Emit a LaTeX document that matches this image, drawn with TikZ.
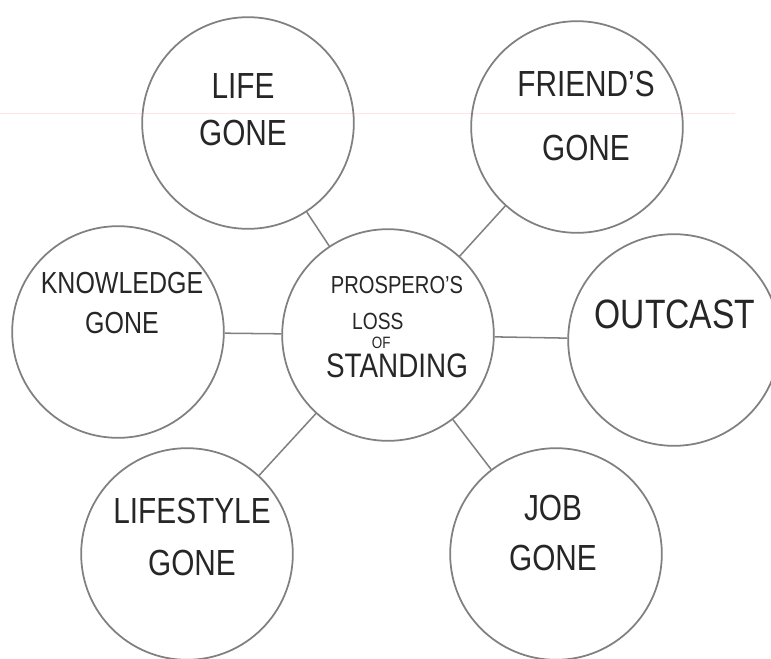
\documentclass[tikz,border=0pt]{standalone}
\usepackage{fontspec}
\setmainfont{Liberation Sans}[FakeStretch=0.82]
\usepackage{tikz}
\usetikzlibrary{positioning}

\tikzset{
    bubble/.style={circle, draw=black!50, line width=1.5pt, minimum size=6.35cm, inner sep=0pt},
    spoke/.style={draw=black!50, line width=1.3pt},
    tag/.style={align=center, text=black!85, font=\fontsize{31}{40}\selectfont},
}

\begin{document}
\begin{tikzpicture}[x=0.3mm, y=-0.3mm]
    \useasboundingbox (0,0) rectangle (771,658);
    % ruled line of the paper
    \draw[pink!40, line width=0.4pt] (0,113) -- (735,113);

    % Circles
    \node[bubble] (hub) at (388,335) {};
    \node[bubble] (life) at (248,123) {};
    \node[bubble] (friends) at (577,127) {};
    \node[bubble] (knowledge) at (118,332) {};
    \node[bubble] (outcast) at (674,340) {};
    \node[bubble] (lifestyle) at (187,554) {};
    \node[bubble] (job) at (556,554) {};

    % Spokes from the middle
    \foreach \n in {life,friends,knowledge,outcast,lifestyle,job}
        \draw[spoke] (hub) -- (\n);

    % Labels
    \node[tag, font=\fontsize{16}{18}\selectfont] (hubtxt) at (397,327)
        {{\fontsize{21}{22}\selectfont PROSPERO’S}\\[13pt]
        {\fontsize{20}{21}\selectfont LOSS\hphantom{LOS}}\\[-2pt]
        {\fontsize{14}{15}\selectfont OF\hphantom{OOO}}\\[4pt]
        {\fontsize{29}{30}\selectfont STANDING}};
    \node[tag] (lifetxt) at (243,110) {LIFE\\GONE};
    \node[tag] (friendstxt) at (586,116) {FRIEND’S\\[14pt]GONE};
    \node[tag, font=\fontsize{26}{34}\selectfont] (knowledgetxt) at (122,303) {KNOWLEDGE\\GONE};
    \node[tag, font=\fontsize{35}{40}\selectfont] (outcasttxt) at (675,314) {OUTCAST};
    \node[tag] (lifestyletxt) at (192,537) {LIFESTYLE\\[4pt]GONE};
    \node[tag] (jobtxt) at (553,533) {JOB\\[2pt]GONE};
\end{tikzpicture}
\end{document}
